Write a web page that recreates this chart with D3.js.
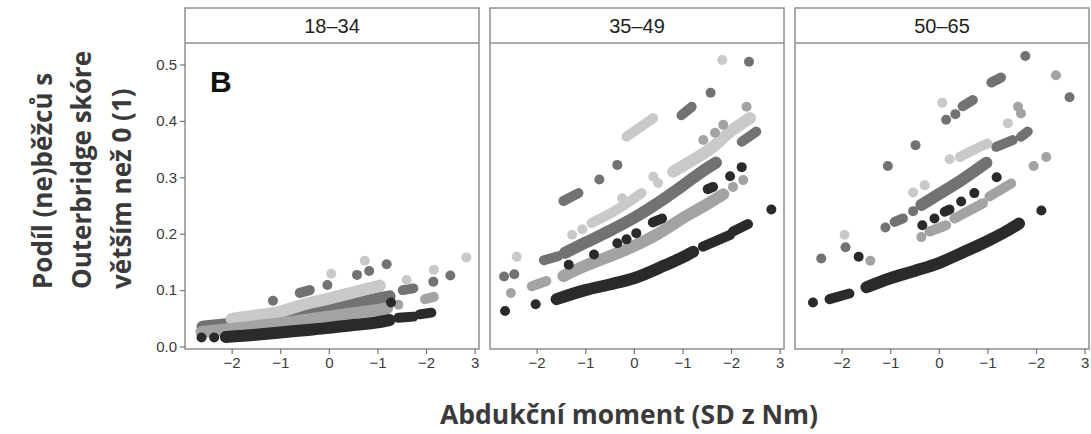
<!DOCTYPE html>
<html>
<head>
<meta charset="utf-8">
<script src="https://cdn.jsdelivr.net/npm/d3@7"></script>
<style>
  html, body { margin: 0; padding: 0; background: #fff; }
  svg { display: block; }
</style>
</head>
<body>
<svg id="chart" width="1091" height="434"></svg>
<script>
// ---------- data ----------
const panelLabels = ["18–34", "35–49", "50–65"];
const yTicks = [0, 0.1, 0.2, 0.3, 0.4, 0.5];
const yTickLabels = ["0.0", "0.1", "0.2", "0.3", "0.4", "0.5"];
const xTicks = [-2, -1, 0, 1, 2, 3];
const xTickLabels = ["−2", "−1", "0", "−1", "−2", "3"];
const groupNames = ["dark", "light", "medium", "black"];
const yTitleLines = ["Podíl (ne)běžců s", "Outerbridge skóre", "větším než 0 (1)"];
const xTitle = "Abdukční moment (SD z Nm)";
const panelTag = "B";

// each series: list of runs, each run a list of [x, y] points
// panel 1: 18–34
const p1Dark = [
  [[-2.6,0.035],[-2.0,0.041],[-1.5,0.047],[-1.0,0.054],[-0.5,0.061],[0,0.069],[0.5,0.077],[1.0,0.085],[1.25,0.089]],
  [[-1.15,0.081]], [[-0.6,0.095],[-0.39,0.100]], [[-0.03,0.109]], [[0.58,0.127]], [[0.83,0.134]],
  [[1.19,0.146]], [[1.52,0.100],[1.74,0.103]], [[2.15,0.115]], [[2.5,0.126]]
];
const p1Light = [
  [[-2.0,0.049],[-1.5,0.055],[-1.0,0.062],[-0.5,0.075],[0,0.085],[0.5,0.096],[1.05,0.108]],
  [[0.05,0.129]], [[0.74,0.152]], [[1.6,0.118]], [[2.16,0.136]], [[2.83,0.158]]
];
const p1Medium = [
  [[-2.62,0.026],[-2.0,0.031],[-1.5,0.036],[-1.0,0.041],[-0.5,0.047],[0,0.053],[0.5,0.059],[1.0,0.065],[1.2,0.068]],
  [[1.43,0.074]], [[1.98,0.084],[2.16,0.088]]
];
const p1Black = [
  [[-2.62,0.016]], [[-2.36,0.016]],
  [[-2.12,0.017],[-1.5,0.021],[-1.0,0.025],[-0.5,0.029],[0,0.033],[0.5,0.038],[1.0,0.043],[1.25,0.047]],
  [[1.43,0.051],[1.74,0.053]], [[1.87,0.057],[2.11,0.060]], [[1.28,0.078]]
];
// panel 2: 35–49
const p2Dark = [
  [[-2.67,0.124]], [[-2.46,0.128]], [[-1.85,0.153],[-1.56,0.160]],
  [[-1.42,0.166],[-1.0,0.184],[-0.5,0.205],[0,0.228],[0.5,0.255],[1.0,0.285],[1.4,0.310],[1.69,0.326]],
  [[-1.45,0.258],[-1.14,0.272]], [[-0.71,0.296]], [[-0.34,0.322]], [[0.98,0.410],[1.19,0.425]],
  [[1.58,0.450]], [[2.37,0.505]], [[2.22,0.363],[2.52,0.381]]
];
const p2Light = [
  [[-2.41,0.159]], [[-1.27,0.198]], [[-1.06,0.208]],
  [[-0.87,0.219],[-0.4,0.240],[0.16,0.272]],
  [[-0.24,0.263]], [[0.40,0.301]], [[0.50,0.290]],
  [[0.81,0.310],[1.2,0.330],[1.6,0.352],[2.0,0.382],[2.39,0.405]],
  [[-0.15,0.372],[0.40,0.405]], [[1.82,0.508]]
];
const p2Medium = [
  [[-2.53,0.095]], [[-2.1,0.107],[-1.8,0.116]],
  [[-1.45,0.125],[-1.0,0.143],[-0.5,0.160],[0,0.178],[0.5,0.200],[1.05,0.230],[1.5,0.252],[1.84,0.270]],
  [[2.04,0.283]], [[2.25,0.295]], [[1.43,0.366]], [[1.67,0.379]], [[1.84,0.393]], [[2.32,0.425]]
];
const p2Black = [
  [[-2.65,0.063]], [[-2.02,0.075]],
  [[-1.59,0.084],[-1.0,0.100],[-0.5,0.110],[0,0.121],[0.64,0.144],[1.0,0.158],[1.22,0.168]],
  [[1.42,0.177],[1.98,0.198]], [[2.04,0.204],[2.35,0.217]], [[2.83,0.243]],
  [[-1.34,0.145]], [[-0.82,0.163]], [[-0.34,0.183]], [[-0.15,0.190]], [[0.05,0.201]],
  [[0.39,0.220],[0.58,0.227]], [[1.52,0.279],[1.63,0.283]], [[1.98,0.302]], [[2.22,0.318]]
];
// panel 3: 50–65
const p3Dark = [
  [[-2.42,0.156]], [[-1.92,0.176]], [[-1.10,0.211]], [[-0.91,0.221],[-0.74,0.227]], [[-0.53,0.240]],
  [[-0.36,0.251],[0,0.270],[0.5,0.297],[0.98,0.326]],
  [[-1.05,0.320]], [[1.18,0.354],[1.52,0.366]], [[1.69,0.372],[1.83,0.381]],
  [[-0.48,0.357]], [[0.15,0.402]], [[0.34,0.412]], [[0.49,0.426],[0.70,0.437]],
  [[1.08,0.468],[1.28,0.477]], [[1.78,0.515]], [[2.69,0.442]]
];
const p3Light = [
  [[-1.94,0.198]], [[-0.53,0.273]], [[-0.29,0.286]], [[0.22,0.332]],
  [[0.43,0.336],[0.7,0.348],[1.0,0.360]], [[1.42,0.396]], [[0.07,0.432]]
];
const p3Medium = [
  [[-1.41,0.152]], [[-0.36,0.194]], [[-0.19,0.204],[0.15,0.215]], [[0.32,0.227],[0.91,0.254]],
  [[1.04,0.266],[1.49,0.289]], [[1.95,0.320]], [[2.21,0.336]], [[1.63,0.425]], [[1.69,0.413]], [[2.41,0.481]]
];
const p3Black = [
  [[-2.59,0.078]], [[-2.25,0.084],[-1.84,0.094]],
  [[-1.49,0.105],[-1.0,0.121],[-0.5,0.134],[0,0.148],[0.5,0.167],[1.05,0.189],[1.4,0.205],[1.65,0.218]],
  [[2.11,0.241]], [[-1.65,0.159]], [[-0.34,0.215]], [[-0.09,0.227]], [[0.12,0.239],[0.22,0.243]],
  [[0.46,0.257]], [[0.73,0.272]], [[1.19,0.300]]
];

const panelSeries = [
  [p1Dark, p1Light, p1Medium, p1Black],
  [p2Dark, p2Light, p2Medium, p2Black],
  [p3Dark, p3Light, p3Medium, p3Black]
];

// ---------- layout ----------
const colors = { dark: "#727272", light: "#c9c9c9", medium: "#a3a3a3", black: "#2b2b2b" };
const panelLefts = [185, 490, 795];
const panelW = 294;
const stripTop = 8, plotTop = 43, plotBottom = 349;
const frameColor = "#8f8f8f";
const textColor = "#3a3a3a";

const svg = d3.select("#chart");
const defs = svg.append("defs");
defs.append("filter").attr("id", "soft").append("feGaussianBlur").attr("stdDeviation", 0.6);

const y = d3.scaleLinear().domain([-0.0044, 0.5381]).range([plotBottom, plotTop]);
const line = d3.line();

panelLabels.forEach((lab, i) => {
  const left = panelLefts[i];
  const x = d3.scaleLinear().domain([-2.96, 3.09]).range([left, left + panelW]);
  const g = svg.append("g");

  // marks
  const clip = "clip" + i;
  defs.append("clipPath").attr("id", clip).append("rect")
    .attr("x", left).attr("y", plotTop).attr("width", panelW).attr("height", plotBottom - plotTop);
  const marks = g.append("g").attr("clip-path", `url(#${clip})`).append("g").attr("filter", "url(#soft)");
  panelSeries[i].forEach((series, si) => {
    const col = colors[groupNames[si]];
    series.forEach(run => {
      if (run.length === 1) {
        marks.append("circle")
          .attr("cx", x(run[0][0])).attr("cy", y(run[0][1]))
          .attr("r", 5).attr("fill", col);
      } else {
        line.x(d => x(d[0])).y(d => y(d[1])).curve(d3.curveMonotoneX);
        marks.append("path")
          .attr("d", line(run))
          .attr("fill", "none").attr("stroke", col)
          .attr("stroke-width", run.length > 3 ? 12 : 10)
          .attr("stroke-linecap", "round").attr("stroke-linejoin", "round");
      }
    });
  });

  // frame + strip
  g.append("rect").attr("x", left).attr("y", stripTop).attr("width", panelW).attr("height", plotBottom - stripTop)
    .attr("fill", "none").attr("stroke", frameColor).attr("stroke-width", 1.5);
  g.append("line").attr("x1", left).attr("x2", left + panelW).attr("y1", plotTop).attr("y2", plotTop)
    .attr("stroke", frameColor).attr("stroke-width", 1.5);
  g.append("text").attr("x", left + panelW / 2).attr("y", 33)
    .attr("text-anchor", "middle").attr("font-family", "Liberation Sans, Arial, sans-serif")
    .attr("font-size", 20).attr("fill", "#222").text(lab);

  // x axis
  const xa = d3.axisBottom(x).tickValues(xTicks).tickSize(5).tickPadding(3)
    .tickFormat((d, k) => xTickLabels[k]);
  const xg = g.append("g").attr("transform", `translate(0,${plotBottom})`).call(xa);
  xg.select(".domain").remove();
  xg.selectAll("line").attr("stroke", "#777").attr("stroke-width", 1.2);
  xg.selectAll("text").attr("font-family", "Liberation Sans, Arial, sans-serif")
    .attr("font-size", 15).attr("fill", textColor);

  if (i === 0) {
    const ya = d3.axisLeft(y).tickValues(yTicks).tickSize(5).tickPadding(3)
      .tickFormat((d, k) => yTickLabels[k]);
    const yg = g.append("g").attr("transform", `translate(${left},0)`).call(ya);
    yg.select(".domain").remove();
    yg.selectAll("line").attr("stroke", "#777").attr("stroke-width", 1.2);
    yg.selectAll("text").attr("font-family", "Liberation Sans, Arial, sans-serif")
      .attr("font-size", 15).attr("fill", textColor);

    g.append("text").attr("x", left + 25).attr("y", 92)
      .attr("font-family", "Liberation Sans, Arial, sans-serif").attr("font-weight", "bold")
      .attr("font-size", 30).attr("fill", "#111").text(panelTag);
  }
});

// axis titles
const titleFont = "'Open Sans', 'Noto Sans', sans-serif";
const baseXs = [51.5, 91, 131];
yTitleLines.forEach((t, k) => {
  svg.append("text")
    .attr("transform", `translate(${baseXs[k]},289) rotate(-90)`)
    .attr("font-family", titleFont).attr("font-weight", "bold").attr("font-size", 26)
    .attr("fill", textColor).text(t);
});
svg.append("text").attr("x", 629).attr("y", 424).attr("text-anchor", "middle")
  .attr("font-family", titleFont).attr("font-weight", "bold").attr("font-size", 26.5)
  .attr("fill", textColor).text(xTitle);
</script>
</body>
</html>
